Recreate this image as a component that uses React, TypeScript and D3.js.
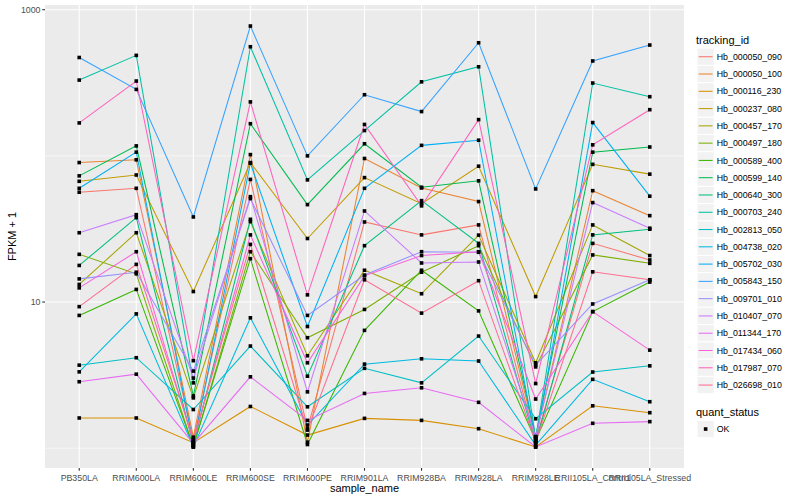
import React, { useEffect } from "react";
import * as d3 from "d3";

const samples = [
  "PB350LA", "RRIM600LA", "RRIM600LE", "RRIM600SE", "RRIM600PE", "RRIM901LA",
  "RRIM928BA", "RRIM928LA", "RRIM928LE", "RRII105LA_Control", "RRII105LA_Stressed",
];

const trackingIds = [
  "Hb_000050_090", "Hb_000050_100", "Hb_000116_230", "Hb_000237_080", "Hb_000457_170",
  "Hb_000497_180", "Hb_000589_400", "Hb_000599_140", "Hb_000640_300", "Hb_000703_240",
  "Hb_002813_050", "Hb_004738_020", "Hb_005702_030", "Hb_005843_150", "Hb_009701_010",
  "Hb_010407_070", "Hb_011344_170", "Hb_017434_060", "Hb_017987_070", "Hb_026698_010",
];

// ggplot hue palette, 20 levels
const hues = [
  "#F8766D", "#EA8331", "#D89000", "#C09B00", "#A3A500", "#7CAE00", "#39B600", "#00BB4E",
  "#00BF7D", "#00C1A3", "#00BFC4", "#00BAE0", "#00B0F6", "#35A2FF", "#9590FF", "#C77CFF",
  "#E76BF3", "#FA62DB", "#FF62BC", "#FF6C91",
];

// FPKM + 1, one row per tracking_id, columns follow `samples`
const fpkm: number[][] = [
  [56.4, 60, 1.13, 69, 1.36, 35.3, 28.8, 33.7, 1.13, 25.2, 19.4],
  [90, 94, 1.19, 102, 1.1, 96, 60.3, 48.7, 1.18, 57.8, 39],
  [1.61, 1.61, 1.09, 1.93, 1.23, 1.6, 1.55, 1.36, 1.02, 1.95, 1.75],
  [67, 74, 11.8, 90, 27.2, 71, 47.1, 85, 10.9, 87.5, 75],
  [13.2, 29.8, 2.21, 35.5, 4.29, 16.5, 11.4, 28.7, 3.84, 33.7, 20.8],
  [21.2, 15.6, 1.02, 22.1, 5.7, 8.9, 16.0, 24.3, 3.6, 21, 18.4],
  [8.1, 12.2, 1.03, 19.8, 1.06, 6.4, 16.5, 8.7, 1.13, 8.6, 13.7],
  [73, 117, 2.28, 166, 46.4, 121, 61, 67.5, 1.2, 106, 115],
  [17.8, 37.8, 1.05, 36.8, 3.11, 24.3, 49.4, 25.2, 1.08, 28.8, 31.5],
  [330, 487, 2.8, 558, 68.5, 149, 321, 407, 1.17, 315, 254],
  [3.7, 4.16, 1.84, 5.0, 1.92, 3.52, 2.8, 5.85, 1.59, 3.32, 3.66],
  [3.33, 8.3, 1.02, 7.8, 1.44, 3.76, 4.09, 3.95, 1.05, 2.96, 2.08],
  [60, 106, 1.06, 89, 6.8, 60, 118, 128, 1.12, 169, 53],
  [471, 285, 38.2, 773, 100, 262, 201, 594, 59.4, 446, 573],
  [14.4, 16.0, 3.37, 51, 8.1, 15.3, 22.1, 21.9, 3.7, 9.7, 14.2],
  [29.8, 39.6, 3.02, 52.6, 2.43, 42, 18.5, 18.8, 1.2, 47.9, 32],
  [2.85, 3.21, 1.08, 3.08, 1.55, 2.37, 2.59, 2.06, 1.02, 1.48, 1.52],
  [12.5, 22.1, 1.1, 28.8, 3.84, 15.1, 20.8, 22.1, 2.17, 8.6, 4.69],
  [168, 325, 3.97, 234, 11.2, 164, 45.5, 177, 2.77, 119, 207],
  [9.3, 18.1, 1.15, 24.8, 1.33, 14.2, 8.4, 14.0, 1.1, 16.1, 14.2],
];

const majorTicks = [10, 1000];
const minorTicks = [1, 100];

const W = 800;
const H = 500;
const panel = { left: 45, right: 684, top: 5, bottom: 468 };
const font = "'Liberation Sans', Arial, Helvetica, sans-serif";
const pt = 3.6;

export default function App() {
  useEffect(() => {
    document.body.style.margin = "0";
  }, []);

  const x = d3.scalePoint<string>().domain(samples).range([panel.left, panel.right]).padding(0.6);

  const all = fpkm.flat();
  const lo = Math.log10(d3.min(all) as number);
  const hi = Math.log10(d3.max(all) as number);
  const pad = (hi - lo) * 0.05;
  const y = d3.scaleLog().domain([10 ** (lo - pad), 10 ** (hi + pad)]).range([panel.bottom, panel.top]);

  const line = d3
    .line<number>()
    .x((_, i) => x(samples[i]) as number)
    .y((d) => y(d));

  const keySize = 17.28;
  const legendX = 697;
  const legendTop = 48.1;

  return (
    <svg width={W} height={H} style={{ display: "block", background: "#fff" }} fontFamily={font}>
      <rect x={panel.left} y={panel.top} width={panel.right - panel.left} height={panel.bottom - panel.top} fill="#EBEBEB" />
      {minorTicks.map((t) => (
        <line key={"mi" + t} x1={panel.left} x2={panel.right} y1={y(t)} y2={y(t)} stroke="#fff" strokeWidth={0.55} />
      ))}
      {majorTicks.map((t) => (
        <line key={"ma" + t} x1={panel.left} x2={panel.right} y1={y(t)} y2={y(t)} stroke="#fff" strokeWidth={1.1} />
      ))}
      {samples.map((s) => (
        <line key={"v" + s} x1={x(s)} x2={x(s)} y1={panel.top} y2={panel.bottom} stroke="#fff" strokeWidth={1.1} />
      ))}

      {fpkm.map((row, i) => (
        <path key={"l" + i} d={line(row) as string} fill="none" stroke={hues[i]} strokeWidth={1.05} />
      ))}
      {fpkm.map((row, i) =>
        row.map((v, j) => (
          <rect key={`p${i}-${j}`} x={(x(samples[j]) as number) - pt / 2} y={y(v) - pt / 2} width={pt} height={pt} fill="#000" />
        ))
      )}

      {/* y axis */}
      {majorTicks.map((t) => (
        <g key={"yt" + t}>
          <line x1={panel.left - 2.75} x2={panel.left} y1={y(t)} y2={y(t)} stroke="#333" strokeWidth={1.1} />
          <text x={panel.left - 4.5} y={y(t)} dy="0.35em" textAnchor="end" fontSize={8.8} fill="#4D4D4D">
            {t}
          </text>
        </g>
      ))}
      <text transform={`translate(16,${(panel.top + panel.bottom) / 2}) rotate(-90)`} textAnchor="middle" fontSize={11} fill="#000">
        FPKM + 1
      </text>

      {/* x axis */}
      {samples.map((s) => (
        <g key={"xt" + s}>
          <line x1={x(s)} x2={x(s)} y1={panel.bottom} y2={panel.bottom + 2.75} stroke="#333" strokeWidth={1.1} />
          <text x={x(s)} y={panel.bottom + 13} textAnchor="middle" fontSize={8.8} fill="#4D4D4D">
            {s}
          </text>
        </g>
      ))}
      <text x={(panel.left + panel.right) / 2} y={492} textAnchor="middle" fontSize={11} fill="#000">
        sample_name
      </text>

      {/* legend */}
      <text x={legendX - 1} y={43.5} fontSize={11} fill="#000">
        tracking_id
      </text>
      {trackingIds.map((id, i) => {
        const ty = legendTop + i * keySize;
        return (
          <g key={"lg" + id}>
            <rect x={legendX} y={ty} width={keySize} height={keySize} fill="#F2F2F2" stroke="#fff" strokeWidth={1} />
            <line x1={legendX + 1.7} x2={legendX + keySize - 1.7} y1={ty + keySize / 2} y2={ty + keySize / 2} stroke={hues[i]} strokeWidth={1.05} />
            <text x={legendX + keySize + 2.5} y={ty + keySize / 2} dy="0.35em" fontSize={8.8} fill="#000">
              {id}
            </text>
          </g>
        );
      })}
      <text x={legendX - 1} y={416} fontSize={11} fill="#000">
        quant_status
      </text>
      <rect x={legendX} y={420.4} width={keySize} height={keySize} fill="#F2F2F2" stroke="#fff" strokeWidth={1} />
      <rect x={legendX + keySize / 2 - pt / 2} y={420.4 + keySize / 2 - pt / 2} width={pt} height={pt} fill="#000" />
      <text x={legendX + keySize + 2.5} y={420.4 + keySize / 2} dy="0.35em" fontSize={8.8} fill="#000">
        OK
      </text>
    </svg>
  );
}
